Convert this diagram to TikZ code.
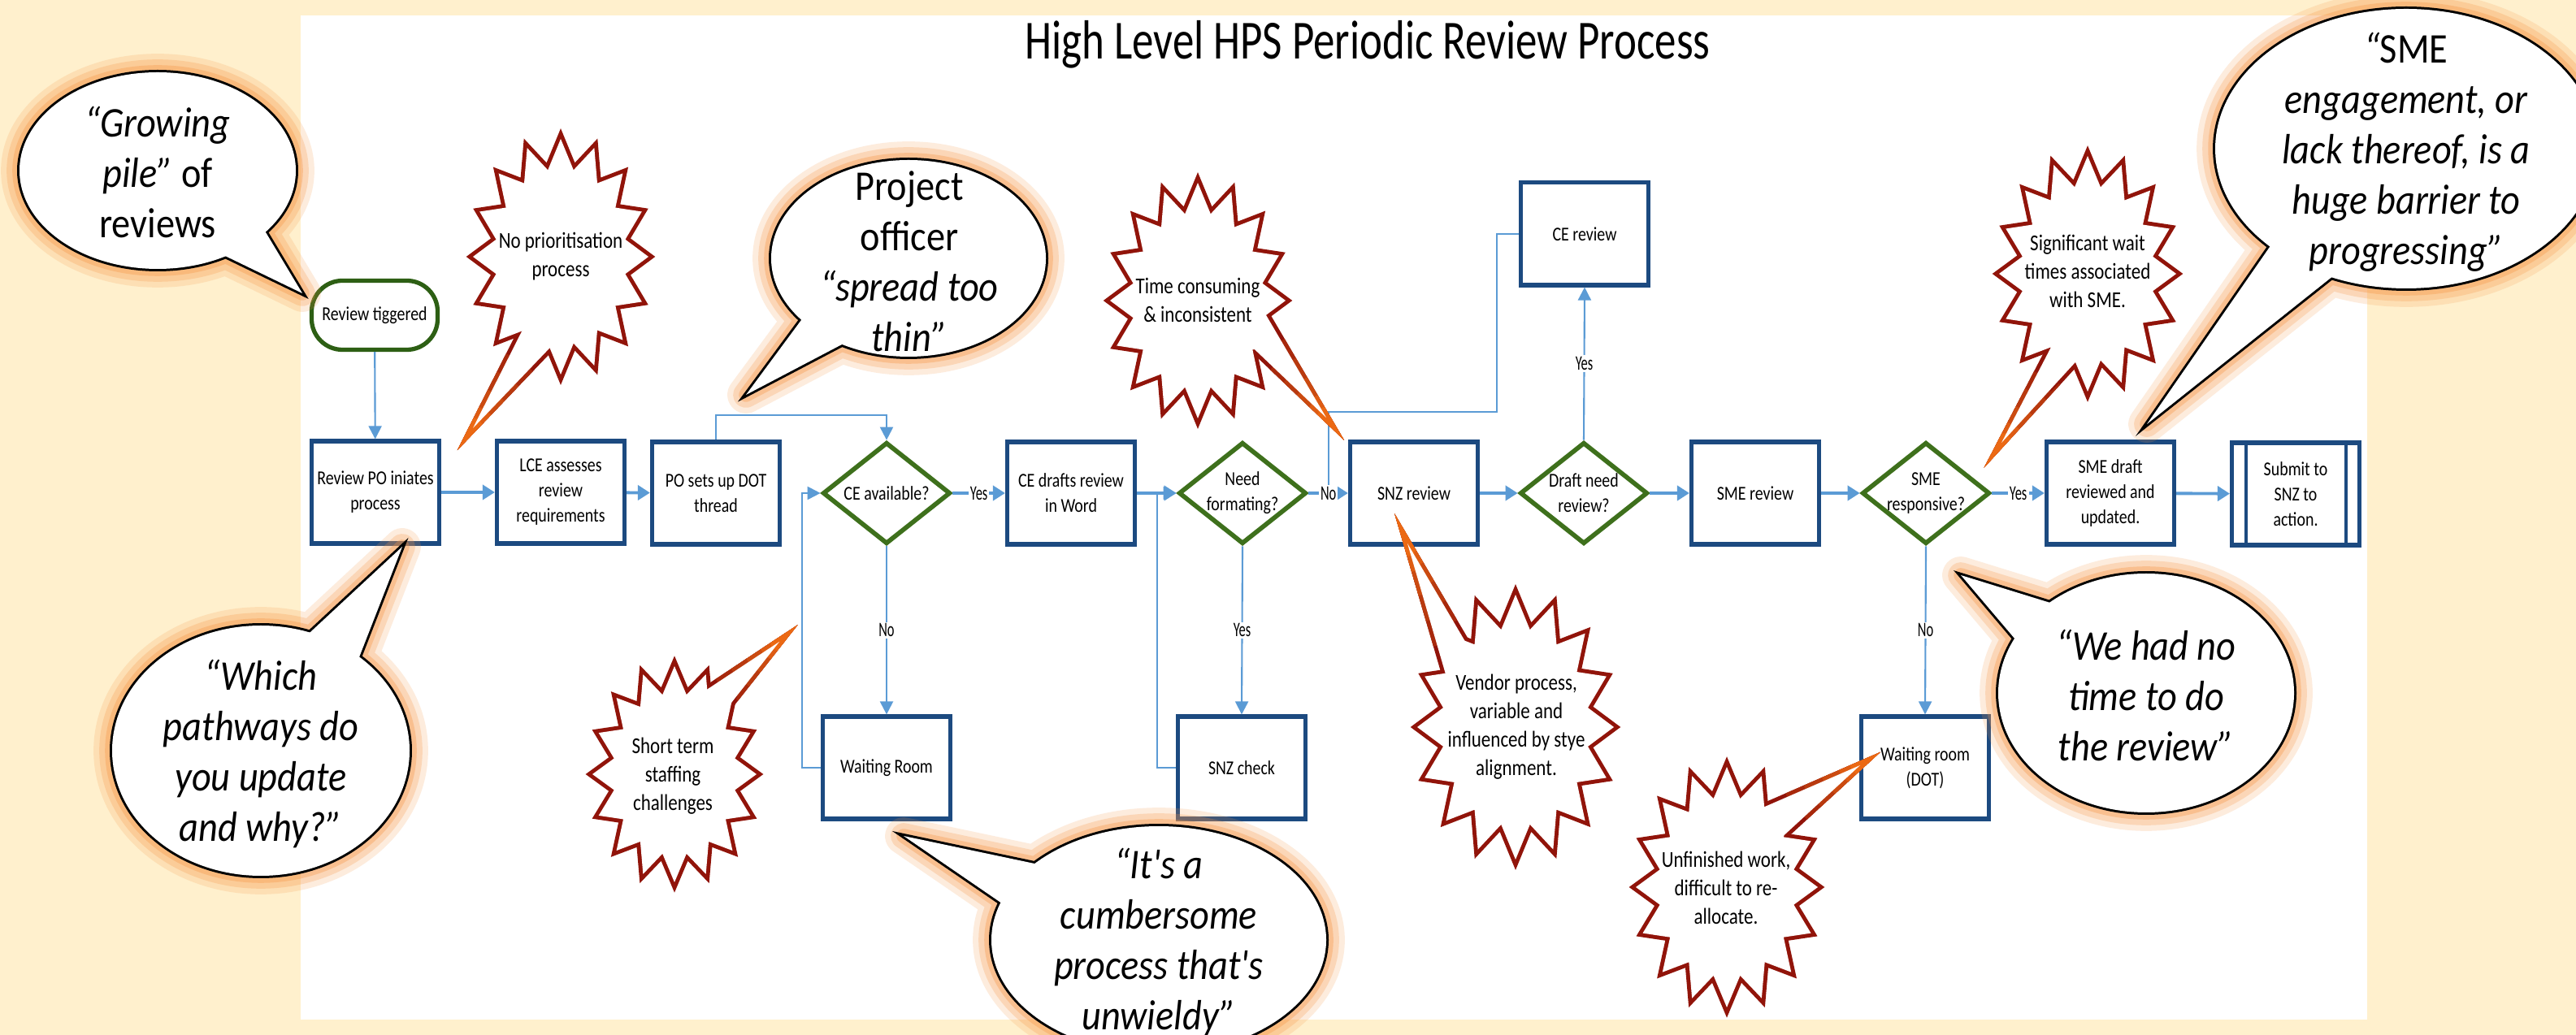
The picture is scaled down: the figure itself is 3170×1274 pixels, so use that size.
\documentclass[tikz,border=0pt]{standalone}
\usepackage{fontspec}
\setmainfont{Carlito}
\newfontfamily\titlef[FakeStretch=0.78]{Carlito}
\newfontfamily\bubf[FakeStretch=0.89]{Carlito}
\newfontfamily\boxf[FakeStretch=0.82]{Carlito}
\newfontfamily\labf[FakeStretch=0.65]{Carlito}
\usetikzlibrary{shapes.geometric,arrows.meta,calc}

\definecolor{cream}{RGB}{255,240,205}
\definecolor{boxblue}{RGB}{28,74,128}
\definecolor{diagreen}{RGB}{62,112,28}
\definecolor{termgreen}{RGB}{45,95,20}
\definecolor{lineblue}{RGB}{91,155,213}
\definecolor{starred}{RGB}{145,20,10}
\definecolor{starorange}{RGB}{235,105,20}
\definecolor{glowc}{RGB}{247,150,70}

\tikzset{
  proc/.style={draw=boxblue, line width=1.45pt, fill=white, minimum width=1.57cm,
    minimum height=1.26cm, align=center, inner sep=1pt,
    font=\boxf\fontsize{6.9pt}{8.8pt}\selectfont},
  term/.style={draw=termgreen, line width=1.5pt, fill=white, rounded corners=0.38cm,
    minimum width=1.55cm, minimum height=0.85cm, align=center, inner sep=1pt,
    font=\boxf\fontsize{6.9pt}{8.8pt}\selectfont},
  dia/.style={shape=diamond, draw=diagreen, line width=1.6pt, fill=white,
    minimum width=1.57cm, minimum height=1.25cm, inner sep=0pt},
  dtext/.style={align=center, inner sep=0pt, font=\boxf\fontsize{6.9pt}{8.8pt}\selectfont},
  startext/.style={align=center, inner sep=0pt, font=\boxf\fontsize{7.97pt}{9.96pt}\selectfont},
  bubtext/.style={align=center, inner sep=0pt, font=\bubf\fontsize{14.8pt}{17.6pt}\selectfont},
  lab/.style={fill=white, inner sep=0.6pt, font=\labf\fontsize{7.2pt}{7.4pt}\selectfont},
  flowthick/.style={draw=lineblue, line width=1.1pt, -{Triangle[length=0.15cm,width=0.18cm]}},
  flowthin/.style={draw=lineblue, line width=0.6pt, -{Triangle[length=0.16cm,width=0.16cm]}},
  flowplain/.style={draw=lineblue, line width=0.6pt},
}

\newcommand{\bubblecallout}[6]{%
  \coordinate (bc) at #1;
  \coordinate (bt) at #4;
  \coordinate (bA) at ($#5!-0.25!(bt)$);
  \coordinate (bB) at ($#6!-0.25!(bt)$);
  \foreach \gw/\go in {13pt/0.18,9pt/0.25,5pt/0.35}{
    \draw[glowc, line width=\gw, draw opacity=\go, line join=round]
      (bc) ellipse [x radius=#2*0.01cm, y radius=#3*0.01cm] (bA) -- (bt) -- (bB) -- cycle;}
  \draw[black, line width=1.7pt, line join=miter]
    (bc) ellipse [x radius=#2*0.01cm, y radius=#3*0.01cm] (bA) -- (bt) -- (bB) -- cycle;
  \fill[white] (bc) ellipse [x radius=#2*0.01cm, y radius=#3*0.01cm];
  \fill[white] (bA) -- (bt) -- (bB) -- cycle;
}

\newcommand{\starcallout}[6]{%
  \coordinate (sc) at #1;
  \coordinate (st) at #4;
  \coordinate (sA) at ($#5!-0.3!(st)$);
  \coordinate (sB) at ($#6!-0.3!(st)$);
  \draw[starred, line width=2.8pt, line join=miter] (sA) -- (st) -- (sB) -- cycle;
  \foreach \tt/\pc in {0.40/25,0.55/45,0.70/65,0.84/85,0.93/100}{
    \draw[starorange!\pc!starred, line width=2.8pt, line join=miter]
      ($(sA)!\tt!(st)$) -- (st) -- ($(sB)!\tt!(st)$);}
  \draw[starred, line width=2.8pt, line join=miter, shift={#1}]
    plot[variable=\k, samples at={0,...,31}]
    ({(1-0.25*mod(\k,2))*#2*cos(\k*11.25+90)},{(1-0.25*mod(\k,2))*#3*sin(\k*11.25+90)}) -- cycle;
  \fill[white] (sA) -- (st) -- (sB) -- cycle;
  \fill[white, shift={#1}]
    plot[variable=\k, samples at={0,...,31}]
    ({(1-0.25*mod(\k,2))*#2*cos(\k*11.25+90)},{(1-0.25*mod(\k,2))*#3*sin(\k*11.25+90)}) -- cycle;
}

\begin{document}
\begin{tikzpicture}[x=0.01cm, y=-0.01cm]
\useasboundingbox (0,0) rectangle (3170,1274);
\clip (0,0) rectangle (3170,1274);
\fill[cream] (0,0) rectangle (3170,1274);
\fill[white] (370,19) rectangle (2913,1255);

\node[font=\titlef\fontsize{19.3pt}{22pt}\selectfont, anchor=base, inner sep=0pt] (title) at (1683,73) {High Level HPS Periodic Review Process};

% ---------- flowchart nodes
\node[term] (trig) at (461,388) {Review tiggered};
\node[proc] (po) at (462,606) {Review PO iniates\\process};
\node[proc] (lce) at (690,606) {LCE assesses\\review\\requirements};
\node[proc] (dot) at (881,607) {PO sets up DOT\\thread};
\node[dia] (ceav) at (1091,607) {};
\node[dtext] (ceavt) at (ceav) {CE available?};
\node[proc] (ced) at (1318,607) {CE drafts review\\in Word};
\node[dia] (nf) at (1529,607) {};
\node[dtext] (nft) at (nf) {Need\\formating?};
\node[proc] (snz) at (1740,607) {SNZ review};
\node[dia] (dnr) at (1949,607) {};
\node[dtext] (dnrt) at (dnr) {Draft need\\review?};
\node[proc] (smer) at (2160,607) {SME review};
\node[dia] (smeq) at (2370,607) {};
\node[dtext] (smeqt) at (smeq) {SME\\responsive?};
\node[proc] (smed) at (2597,607) {SME draft\\reviewed and\\updated.};
\node[proc] (sub) at (2825,608) {Submit to\\SNZ to\\action.};
\draw[boxblue, line width=1.3pt] ([xshift=0.2cm]sub.north west) -- ([xshift=0.2cm]sub.south west);
\draw[boxblue, line width=1.3pt] ([xshift=-0.19cm]sub.north east) -- ([xshift=-0.19cm]sub.south east);
\node[proc] (cer) at (1950,288) {CE review};
\node[proc] (wr) at (1091,945) {Waiting Room};
\node[proc] (snzc) at (1528,945) {SNZ check};
\node[proc] (wrd) at (2369,945) {Waiting room\\(DOT)};

% ---------- connectors
\coordinate (j1) at ($(nf.east)!0.5!(snz.west)$);
\draw[flowthin] (trig) -- (po);
\draw[flowthick] (po) -- (lce);
\draw[flowthick] (lce) -- (dot);
\draw[flowthin] (dot.north) -- ++(0,-30) -| (ceav.north);
\draw[flowthick] (ceav.east) -- node[lab] (ly1) {Yes} (ced.west);
\draw[flowthin] (ceav.south) -- node[lab] (ln1) {No} (wr.north);
\draw[flowthin] (wr.west) -- ++(-23,0) |- (ceav.west);
\draw[flowthick] (ced.east) -- (nf.west);
\draw[flowthin] (nf.south) -- node[lab] (ly2) {Yes} (snzc.north);
\draw[flowthin] (snzc.west) -- ++(-23,0) |- (nf.west);
\draw[flowplain] (cer.west) -- ++(-27,0) |- ($(j1)+(0,-100)$) -- (j1);
\draw[flowthick] (nf.east) -- node[lab] (ln2) {No} (snz.west);
\draw[flowthick] (snz) -- (dnr);
\draw[flowthin] (dnr.north) -- node[lab] (ly3) {Yes} (cer.south);
\draw[flowthick] (dnr.east) -- (smer.west);
\draw[flowthick] (smer) -- (smeq);
\draw[flowthick] (smeq.east) -- node[lab] (ly4) {Yes} (smed.west);
\draw[flowthin] (smeq.south) -- node[lab] (ln3) {No} (wrd.north);
\draw[flowthick] (smed) -- (sub);

% ---------- star callouts
\starcallout{(690,316)}{108}{145}{(582,527)}{(640,412)}{(672,433)}
\node[startext] (s1) at (690,316) {No prioritisation\\process};
\starcallout{(1474,370)}{108}{145}{(1632,514)}{(1561,393)}{(1548,434)}
\node[startext] (s2) at (1474,369) {Time consuming\\\& inconsistent};
\starcallout{(830,953)}{101}{133}{(959,790)}{(862,854)}{(889,879)}
\node[startext] (s3) at (828,955) {Short term\\staffing\\challenges};
\starcallout{(1865,895)}{121}{163}{(1732,669)}{(1805,793)}{(1779,830)}
\node[startext] (s4) at (1866,895) {Vendor process,\\variable and\\influenced by stye\\alignment.};
\starcallout{(2125,1092)}{112}{148}{(2289,942)}{(2174,992)}{(2201,1023)}
\node[startext] (s5) at (2124,1093) {Unfinished work,\\difficult to re-\\allocate.};
\starcallout{(2569,337)}{109}{145}{(2463,545)}{(2520,435)}{(2551,449)}
\node[startext] (s6) at (2569,334) {Significant wait\\times associated\\with SME.};

% ---------- speech bubbles
\bubblecallout{(194,210)}{170}{121}{(372,361)}{(327,286)}{(277,315)}
\node[bubtext] (q1) at (194,212) {{\itshape “Growing}\\{\itshape pile”} of\\reviews};
\bubblecallout{(321,924)}{183}{154}{(495,673)}{(382,778)}{(442,809)}
\node[bubtext, font=\bubf\itshape\fontsize{14.8pt}{17.6pt}\selectfont] (q2) at (321,928) {“Which\\pathways do\\you update\\and why?”};
\bubblecallout{(1118,318)}{169}{121}{(918,486)}{(986,394)}{(1036,424)}
\node[bubtext] (q3) at (1119,322) {Project\\officer\\{\itshape “spread too}\\{\itshape thin”}};
\bubblecallout{(1426,1157)}{206}{140}{(1112,1029)}{(1273,1063)}{(1233,1112)}
\node[bubtext, font=\bubf\itshape\fontsize{14.8pt}{17.6pt}\selectfont] (q4) at (1426,1160) {“It's a\\cumbersome\\process that's\\unwieldy”};
\bubblecallout{(2961,183)}{235}{172}{(2642,522)}{(2793,304)}{(2867,343)}
\node[bubtext] (q5) at (2961,187) {{\itshape “}SME\\{\itshape engagement, or}\\{\itshape lack thereof, is a}\\{\itshape huge barrier to}\\{\itshape progressing”}};
\bubblecallout{(2641,853)}{182}{147}{(2413,708)}{(2523,742)}{(2480,787)}
\node[bubtext, font=\bubf\itshape\fontsize{14.8pt}{17.6pt}\selectfont] (q6) at (2641,856) {“We had no\\time to do\\the review”};
\end{tikzpicture}
\end{document}
